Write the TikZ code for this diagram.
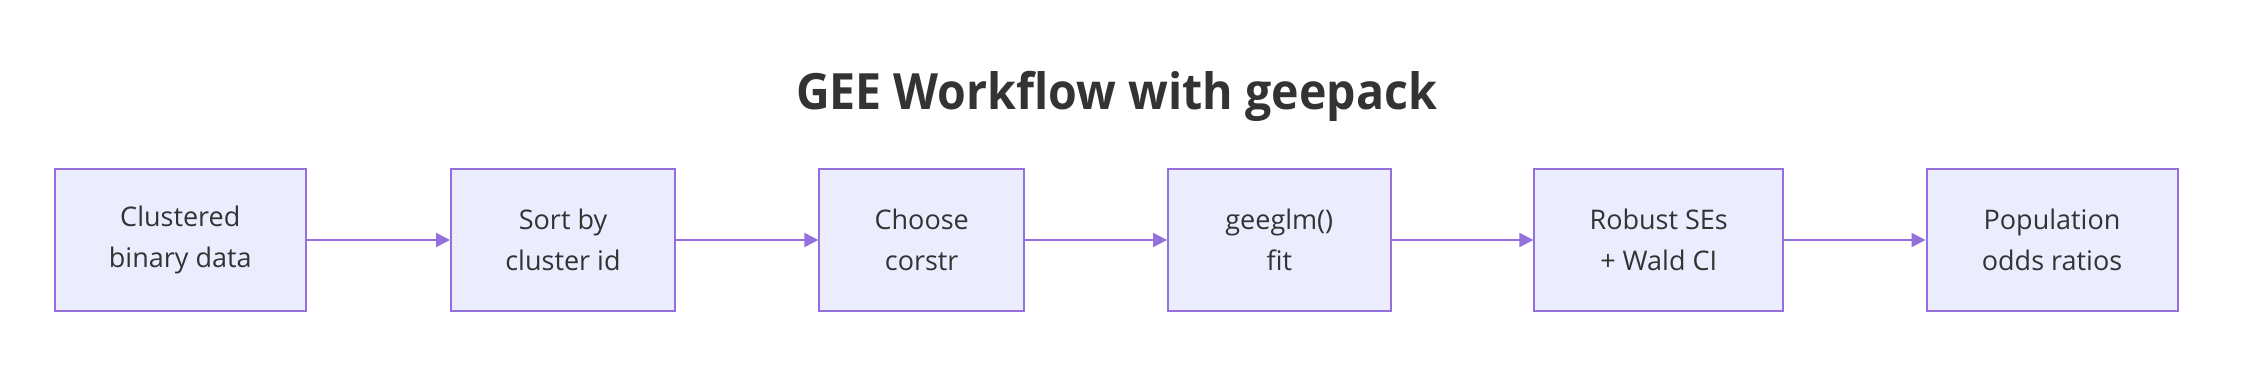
\documentclass[tikz,border=0pt]{standalone}
\usepackage{fontspec}
\setmainfont{Open Sans}
\usetikzlibrary{arrows.meta}
\definecolor{boxfill}{HTML}{ECECFF}
\definecolor{boxline}{HTML}{9370DB}
\definecolor{txt}{HTML}{333333}
\begin{document}
\begin{tikzpicture}[x=1pt,y=-1pt,
  stepbox/.style={draw=boxline,fill=boxfill,line width=2pt,minimum height=141pt,inner sep=0pt,
    align=center,text=txt,font=\fontsize{27}{41}\selectfont},
  flow/.style={draw=boxline,line width=2pt,-{Triangle[length=14pt,width=14pt]}}]
\useasboundingbox (0,0) rectangle (2248,366);
\fill[white] (0,0) rectangle (2248,366);
\node[text=txt,font=\fontsize{50}{60}\bfseries] (title) at (1116.5,96) {\scalebox{0.93}[1]{GEE Workflow with geepack}};
\node[stepbox,minimum width=251.5pt] (a) at (180.3,240) {Clustered\\binary data};
\node[stepbox,minimum width=224pt] (b) at (563,240) {Sort by\\cluster id};
\node[stepbox,minimum width=204.6pt] (c) at (921.7,240) {Choose\\corstr};
\node[stepbox,minimum width=222.5pt] (d) at (1279.3,240) {geeglm()\\fit};
\node[stepbox,minimum width=248.7pt] (e) at (1658.7,240) {Robust SEs\\+ Wald CI};
\node[stepbox,minimum width=251pt] (f) at (2052,240) {Population\\odds ratios};
\draw[flow] (a) -- (b);
\draw[flow] (b) -- (c);
\draw[flow] (c) -- (d);
\draw[flow] (d) -- (e);
\draw[flow] (e) -- (f);
\end{tikzpicture}
\end{document}
